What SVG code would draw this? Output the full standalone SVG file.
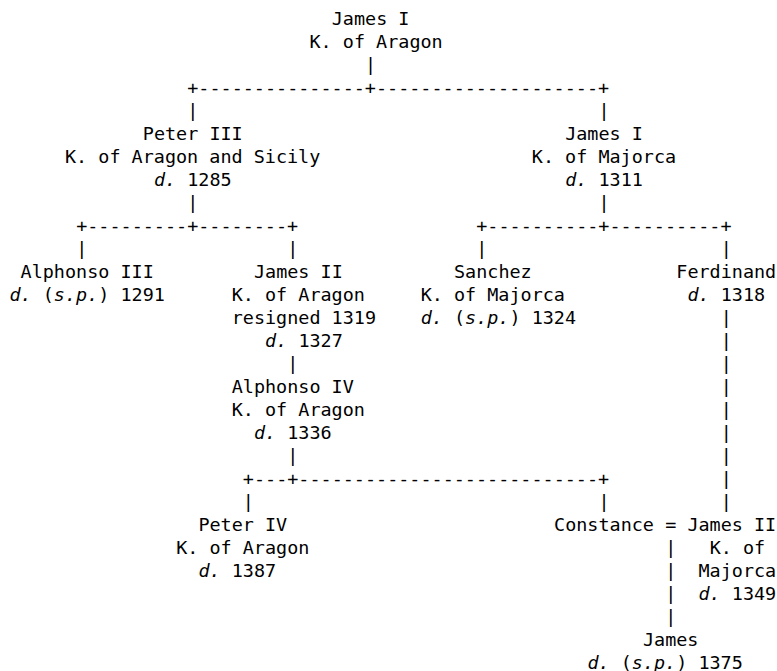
<svg xmlns="http://www.w3.org/2000/svg" width="777" height="671" viewBox="0 0 777 671">
<style>
text{font-family:"DejaVu Sans Mono","Liberation Mono",monospace;font-size:18.46px;fill:#000;white-space:pre}
.i{font-style:italic}
</style>
<rect width="777" height="671" fill="#fff"/>
<g id="connectors">
<text x="365.10" y="71">|</text>
<text x="187.28" y="94">+---------------+--------------------+</text>
<text x="187.28" y="117">|</text><text x="598.50" y="117">|</text>
<text x="187.28" y="209">|</text><text x="598.50" y="209">|</text>
<text x="76.14" y="232">+---------+--------+</text>
<text x="476.24" y="232">+----------+----------+</text>
<text x="76.14" y="255">|</text><text x="287.30" y="255">|</text><text x="476.24" y="255">|</text><text x="720.75" y="255">|</text>
<text x="720.75" y="324">|</text>
<text x="720.75" y="347">|</text>
<text x="287.30" y="370">|</text><text x="720.75" y="370">|</text>
<text x="720.75" y="393">|</text>
<text x="720.75" y="416">|</text>
<text x="720.75" y="439">|</text>
<text x="287.30" y="462">|</text><text x="720.75" y="462">|</text>
<text x="242.85" y="485">+---+---------------------------+</text><text x="720.75" y="485">|</text>
<text x="242.85" y="508">|</text><text x="598.50" y="508">|</text><text x="720.75" y="508">|</text>
<text x="665.18" y="531">=</text>
<text x="665.18" y="554">|</text>
<text x="665.18" y="577">|</text>
<text x="665.18" y="600">|</text>
<text x="665.18" y="623">|</text>
</g>
<g id="james1-aragon">
<text x="331.76" y="25">James I</text>
<text x="309.53" y="48">K. of Aragon</text>
</g>
<g id="peter3">
<text x="142.82" y="140">Peter III</text>
<text x="65.02" y="163">K. of Aragon and Sicily</text>
<text x="153.94" y="186"><tspan class="i">d.</tspan> 1285</text>
</g>
<g id="james1-majorca">
<text x="565.15" y="140">James I</text>
<text x="531.81" y="163">K. of Majorca</text>
<text x="565.15" y="186"><tspan class="i">d.</tspan> 1311</text>
</g>
<g id="alphonso3">
<text x="20.57" y="278">Alphonso III</text>
<text x="9.45" y="301"><tspan class="i">d.</tspan> (<tspan class="i">s.p.</tspan>) 1291</text>
</g>
<g id="james2-aragon">
<text x="253.96" y="278">James II</text>
<text x="231.73" y="301">K. of Aragon</text>
<text x="231.73" y="324">resigned 1319</text>
<text x="265.08" y="347"><tspan class="i">d.</tspan> 1327</text>
</g>
<g id="sanchez">
<text x="454.01" y="278">Sanchez</text>
<text x="420.67" y="301">K. of Majorca</text>
<text x="420.67" y="324"><tspan class="i">d.</tspan> (<tspan class="i">s.p.</tspan>) 1324</text>
</g>
<g id="ferdinand">
<text x="676.29" y="278">Ferdinand</text>
<text x="687.41" y="301"><tspan class="i">d.</tspan> 1318</text>
</g>
<g id="alphonso4">
<text x="231.73" y="393">Alphonso IV</text>
<text x="231.73" y="416">K. of Aragon</text>
<text x="253.96" y="439"><tspan class="i">d.</tspan> 1336</text>
</g>
<g id="peter4">
<text x="198.39" y="531">Peter IV</text>
<text x="176.16" y="554">K. of Aragon</text>
<text x="198.39" y="577"><tspan class="i">d.</tspan> 1387</text>
</g>
<g id="constance">
<text x="554.04" y="531">Constance</text>
</g>
<g id="james2-majorca">
<text x="687.41" y="531">James II</text>
<text x="709.64" y="554">K. of</text>
<text x="698.52" y="577">Majorca</text>
<text x="698.52" y="600"><tspan class="i">d.</tspan> 1349</text>
</g>
<g id="james">
<text x="642.95" y="646">James</text>
<text x="587.38" y="669"><tspan class="i">d.</tspan> (<tspan class="i">s.p.</tspan>) 1375</text>
</g>
</svg>
